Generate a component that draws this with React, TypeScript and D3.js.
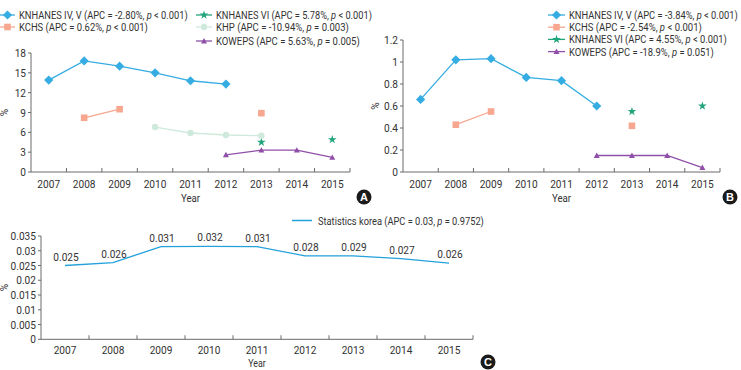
import React, { useEffect, useRef } from "react";
import * as d3 from "d3";

const years = ["2007", "2008", "2009", "2010", "2011", "2012", "2013", "2014", "2015"];

// panel A
const knhanes45A = [13.9, 16.8, 16.0, 15.0, 13.8, 13.3, null, null, null];
const kchsA = [null, 8.2, 9.5, null, null, null, 8.9, null, null];
const knhanes6A = [null, null, null, null, null, null, 4.5, null, 4.9];
const khpA = [null, null, null, 6.8, 5.9, 5.6, 5.5, null, null];
const kowepsA = [null, null, null, null, null, 2.6, 3.3, 3.3, 2.2];
const ticksA = [0, 3, 6, 9, 12, 15, 18];

// panel B
const knhanes45B = [0.66, 1.02, 1.03, 0.86, 0.83, 0.6, null, null, null];
const kchsB = [null, 0.43, 0.55, null, null, null, 0.42, null, null];
const knhanes6B = [null, null, null, null, null, null, 0.55, null, 0.6];
const kowepsB = [null, null, null, null, null, 0.15, 0.15, 0.15, 0.04];
const ticksB = [0, 0.2, 0.4, 0.6, 0.8, 1, 1.2];

// panel C
const statsKorea = [0.025, 0.026, 0.0314, 0.0315, 0.0314, 0.0283, 0.0283, 0.0273, 0.0258];
const statsLabels = ["0.025", "0.026", "0.031", "0.032", "0.031", "0.028", "0.029", "0.027", "0.026"];
const ticksC = [0, 0.005, 0.01, 0.015, 0.02, 0.025, 0.03, 0.035];

const BLUE = "#35ace2";
const SALMON = "#f7a68f";
const TEAL = "#21a47c";
const MINT = "#cfeadc";
const PURPLE = "#8f4fa8";
const AXIS = "#6a6a6a";
const TEXT = "#333";
const FONT = "Roboto, 'Liberation Sans', sans-serif";
const SQUEEZE = 0.88;

type Shape = "diamond" | "square" | "star" | "circle" | "triangle" | "none";
type G = d3.Selection<SVGGElement, unknown, null, undefined>;

function markerPath(shape: Shape, r: number) {
  if (shape === "diamond") return `M0,${-r}L${r},0L0,${r}L${-r},0Z`;
  if (shape === "square") return `M${-r},${-r}H${r}V${r}H${-r}Z`;
  if (shape === "triangle") return `M0,${-r}L${r},${r * 0.8}L${-r},${r * 0.8}Z`;
  if (shape === "circle") return d3.symbol(d3.symbolCircle, Math.PI * r * r)()!;
  if (shape === "star") return d3.symbol(d3.symbolStar, r * r * 2.6)()!;
  return "";
}

const markerSize: Record<Shape, number> = {
  diamond: 4.6,
  square: 3.3,
  star: 3,
  circle: 3.2,
  triangle: 3,
  none: 0,
};

// text placed in a condensed wrapper
function label(g: G, x: number, y: number, str: string, size: number, anchor = "start") {
  const w = g.append("g").attr("transform", `translate(${x},${y}) scale(${SQUEEZE},1)`);
  return w.append("text")
    .attr("text-anchor", anchor)
    .attr("font-size", size)
    .attr("fill", TEXT)
    .text(str);
}

// legend text with italic p, squeezed to the width it takes in the figure
function apcLabel(g: G, x: number, y: number, head: string, tail: string, width: number) {
  const w = g.append("g").attr("transform", `translate(${x},${y})`);
  const t = w.append("text").attr("font-size", 11).attr("fill", TEXT);
  t.append("tspan").text(head);
  t.append("tspan").attr("font-style", "italic").text("p");
  t.append("tspan").text(tail);
  const len = (t.node() as SVGTextElement).getComputedTextLength();
  w.attr("transform", `translate(${x},${y}) scale(${width / len},1)`);
}

type Series = { name: string; apc: string; p: string; values: (number | null)[]; color: string; shape: Shape };

function drawPanel(
  g: G,
  opts: {
    x0: number;
    x1: number;
    yBottom: number;
    yTop: number;
    yMax: number;
    ticks: number[];
    fmt: (d: number) => string;
    series: Series[];
    ylabX: number;
    yearY: number;
    tickDy: number;
    yearSize: number;
  }
) {
  const x = d3.scaleBand<string>().domain(years).range([opts.x0, opts.x1]).padding(0);
  const y = d3.scaleLinear().domain([0, opts.yMax]).range([opts.yBottom, opts.yTop]);

  g.append("line")
    .attr("x1", opts.x0).attr("x2", opts.x0)
    .attr("y1", opts.yBottom).attr("y2", opts.yTop)
    .attr("stroke", AXIS);
  opts.ticks.forEach((t) => {
    g.append("line")
      .attr("x1", opts.x0 - 3).attr("x2", opts.x0)
      .attr("y1", y(t)).attr("y2", y(t))
      .attr("stroke", AXIS);
    label(g, opts.x0 - 5, y(t) + 4, opts.fmt(t), 11.5, "end");
  });

  g.append("line")
    .attr("x1", opts.x0).attr("x2", opts.x1)
    .attr("y1", opts.yBottom).attr("y2", opts.yBottom)
    .attr("stroke", AXIS);
  years.forEach((yr) => {
    const bx = x(yr)! + x.bandwidth();
    g.append("line")
      .attr("x1", bx).attr("x2", bx)
      .attr("y1", opts.yBottom).attr("y2", opts.yBottom - 4)
      .attr("stroke", AXIS);
    label(g, x(yr)! + x.bandwidth() / 2, opts.yBottom + opts.tickDy, yr, 11.5, "middle");
  });

  g.append("text")
    .attr("transform", `translate(${opts.ylabX},${(opts.yBottom + opts.yTop) / 2}) rotate(-90)`)
    .attr("text-anchor", "middle")
    .attr("font-size", 10).attr("fill", TEXT)
    .text("%");
  label(g, (opts.x0 + opts.x1) / 2, opts.yearY, "Year", opts.yearSize, "middle");

  const line = d3
    .line<number | null>()
    .defined((d) => d != null)
    .x((_, i) => x(years[i])! + x.bandwidth() / 2)
    .y((d) => y(d as number));

  opts.series.forEach((s) => {
    g.append("path")
      .attr("d", line(s.values))
      .attr("fill", "none")
      .attr("stroke", s.color)
      .attr("stroke-width", 1.3);
    s.values.forEach((v, i) => {
      if (v == null) return;
      g.append("path")
        .attr("d", markerPath(s.shape, markerSize[s.shape]))
        .attr("transform", `translate(${x(years[i])! + x.bandwidth() / 2},${y(v)})`)
        .attr("fill", s.color);
    });
  });
  return { x, y };
}

function legendItem(g: G, s: Series, lx: number, ly: number, len: number, width: number) {
  g.append("line")
    .attr("x1", lx).attr("x2", lx + len)
    .attr("y1", ly).attr("y2", ly)
    .attr("stroke", s.color).attr("stroke-width", 1.3);
  if (s.shape !== "none") {
    g.append("path")
      .attr("d", markerPath(s.shape, markerSize[s.shape]))
      .attr("transform", `translate(${lx + len / 2},${ly})`)
      .attr("fill", s.color);
  }
  apcLabel(g, lx + len + 4, ly + 4, `${s.name} (APC = ${s.apc}, `, ` ${s.p})`, width);
}

function badge(g: G, cx: number, cy: number, letter: string) {
  g.append("circle").attr("cx", cx).attr("cy", cy).attr("r", 7.5).attr("fill", "#1a1a1a");
  g.append("text")
    .attr("x", cx).attr("y", cy + 4)
    .attr("text-anchor", "middle")
    .attr("font-size", 11).attr("font-weight", "bold")
    .attr("font-family", "'Liberation Sans', Arial, sans-serif")
    .attr("fill", "#fff")
    .text(letter);
}

const seriesA: Series[] = [
  { name: "KNHANES IV, V", apc: "-2.80%", p: "< 0.001", values: knhanes45A, color: BLUE, shape: "diamond" },
  { name: "KCHS", apc: "0.62%", p: "< 0.001", values: kchsA, color: SALMON, shape: "square" },
  { name: "KNHANES VI", apc: "5.78%", p: "< 0.001", values: knhanes6A, color: TEAL, shape: "star" },
  { name: "KHP", apc: "-10.94%", p: "= 0.003", values: khpA, color: MINT, shape: "circle" },
  { name: "KOWEPS", apc: "5.63%", p: "= 0.005", values: kowepsA, color: PURPLE, shape: "triangle" },
];

const seriesB: Series[] = [
  { name: "KNHANES IV, V", apc: "-3.84%", p: "< 0.001", values: knhanes45B, color: BLUE, shape: "diamond" },
  { name: "KCHS", apc: "-2.54%", p: "< 0.001", values: kchsB, color: SALMON, shape: "square" },
  { name: "KNHANES VI", apc: "4.55%", p: "< 0.001", values: knhanes6B, color: TEAL, shape: "star" },
  { name: "KOWEPS", apc: "-18.9%", p: "= 0.051", values: kowepsB, color: PURPLE, shape: "triangle" },
];

const statsSeries: Series = {
  name: "Statistics korea", apc: "0.03", p: "= 0.9752", values: statsKorea, color: "#22a1da", shape: "none",
};

export default function App() {
  const ref = useRef<SVGSVGElement>(null);

  useEffect(() => {
    const svg = d3.select(ref.current!);
    svg.selectAll("*").remove();
    const root = svg.append("g").attr("font-family", FONT);

    // A
    const gA = root.append("g");
    drawPanel(gA, {
      x0: 31, x1: 350, yBottom: 172, yTop: 53, yMax: 18,
      ticks: ticksA, fmt: (d) => String(d), series: seriesA, ylabX: 8, yearY: 202,
      tickDy: 16, yearSize: 11,
    });
    legendItem(gA, seriesA[0], 0, 15, 15, 169);
    legendItem(gA, seriesA[1], 0, 27, 15, 129);
    legendItem(gA, seriesA[2], 196, 15, 16, 156);
    legendItem(gA, seriesA[3], 196, 27, 16, 133);
    legendItem(gA, seriesA[4], 196, 41, 16, 144);
    badge(gA, 364, 197, "A");

    // B
    const gB = root.append("g");
    drawPanel(gB, {
      x0: 403, x1: 720, yBottom: 172, yTop: 40, yMax: 1.2,
      ticks: ticksB, fmt: (d) => String(d), series: seriesB, ylabX: 379, yearY: 202,
      tickDy: 16, yearSize: 11,
    });
    const widthsB = [169, 133, 158, 145];
    seriesB.forEach((s, i) => legendItem(gB, s, 548, 15 + i * 12.2, 17, widthsB[i]));
    badge(gB, 730, 197, "B");

    // C
    const gC = root.append("g");
    const { x, y } = drawPanel(gC, {
      x0: 41, x1: 473, yBottom: 339.3, yTop: 236, yMax: 0.035,
      ticks: ticksC, fmt: (d) => String(+d.toFixed(3)), series: [statsSeries], ylabX: 8, yearY: 367,
      tickDy: 15, yearSize: 10,
    });
    statsKorea.forEach((v, i) => {
      label(gC, x(years[i])! + x.bandwidth() / 2 + 1, y(v) - 5, statsLabels[i], 11.5, "middle");
    });
    gC.append("line").attr("x1", 292).attr("x2", 312).attr("y1", 220.5).attr("y2", 220.5)
      .attr("stroke", statsSeries.color).attr("stroke-width", 1.5);
    apcLabel(gC, 318, 224.5, "Statistics korea (APC = 0.03, ", " = 0.9752)", 166);
    badge(gC, 488, 362, "C");
  }, []);

  return (
    <svg
      ref={ref}
      width={741}
      height={370}
      style={{ position: "absolute", left: 0, top: 0, background: "#fff" }}
    />
  );
}
